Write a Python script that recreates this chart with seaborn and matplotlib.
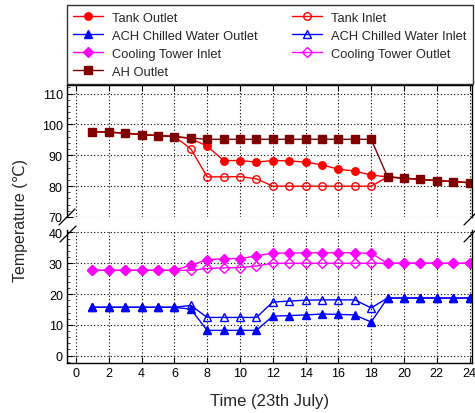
import numpy as np
import pandas as pd
import matplotlib
matplotlib.use("Agg")
import matplotlib.pyplot as plt
import seaborn as sns
from matplotlib.ticker import MultipleLocator
from matplotlib.lines import Line2D

hours = list(range(1, 25))

tank_outlet = [97.7, 97.5, 97.2, 96.7, 96.4, 96.1, 95.4, 93.0, 88.3, 88.3, 87.8, 88.3,
               88.2, 87.8, 86.9, 85.5, 84.9, 83.6, 83.0, 82.6, 82.2, 81.8, 81.5, 81.1]
tank_inlet = [97.7, 97.5, 97.2, 96.7, 96.4, 96.1, 92.1, 83.0, 83.0, 83.1, 82.4, 80.0,
              80.0, 80.0, 80.0, 80.0, 80.0, 80.0, 83.0, 82.6, 82.2, 81.8, 81.5, 81.1]
ah_outlet = [97.7, 97.5, 97.2, 96.7, 96.4, 96.1, 95.6, 95.2, 95.2, 95.2, 95.2, 95.2,
             95.2, 95.2, 95.2, 95.2, 95.2, 95.2, 83.0, 82.6, 82.2, 81.8, 81.5, 81.1]
ach_outlet = [15.7, 15.7, 15.7, 15.7, 15.7, 15.7, 15.1, 8.2, 8.2, 8.2, 8.2, 12.8,
              13.0, 13.2, 13.5, 13.4, 13.2, 10.9, 18.7, 18.7, 18.7, 18.7, 18.7, 18.7]
ach_inlet = [15.7, 15.7, 15.7, 15.7, 15.7, 15.7, 16.3, 12.4, 12.4, 12.4, 12.4, 17.4,
             17.7, 18.0, 18.1, 18.1, 18.1, 15.5, 18.7, 18.7, 18.7, 18.7, 18.7, 18.7]
ct_inlet = [27.7, 27.7, 27.7, 27.7, 27.7, 27.7, 29.4, 31.1, 31.5, 31.5, 32.4, 33.3,
            33.3, 33.4, 33.4, 33.4, 33.4, 33.2, 30.0, 30.0, 30.0, 30.0, 30.0, 30.0]
ct_outlet = [27.7, 27.7, 27.7, 27.7, 27.7, 27.7, 27.7, 28.3, 28.5, 28.6, 29.1, 30.0,
             30.0, 30.0, 30.0, 30.0, 30.0, 30.0, 30.0, 30.0, 30.0, 30.0, 30.0, 30.0]

x_ticks = list(range(0, 25, 2))
upper_ticks = [70, 80, 90, 100, 110]
lower_ticks = [0, 10, 20, 30, 40]

sns.set_style("ticks")
plt.rcParams['font.family'] = ['Liberation Sans', 'DejaVu Sans']
plt.rcParams['xtick.direction'] = 'in'
plt.rcParams['ytick.direction'] = 'in'

W, H = 475, 414
fig = plt.figure(figsize=(W / 100, H / 100), dpi=100)

left, right = 67 / W, 472 / W
ax_u = fig.add_axes([left, 1 - 218 / H, right - left, (218 - 86) / H])
ax_l = fig.add_axes([left, 1 - 364 / H, right - left, (364 - 231) / H])

RED = '#ff0000'
BLUE = '#0000ff'
MAG = '#ff00ff'
DRED = '#800000'
ms = 5.4
lw = 1.0

series = {}

def draw(ax, y, color, marker, filled, label):
    kw = dict(color=color, marker=marker, markersize=ms, linewidth=lw,
              markeredgecolor=color, markeredgewidth=1.0)
    if marker == 'D':
        kw['markersize'] = ms * 0.85
    if not filled:
        kw['markerfacecolor'] = 'none'
    else:
        kw['markerfacecolor'] = color
    sns.lineplot(x=hours, y=y, ax=ax, **kw)
    series[label] = Line2D([], [], **kw)

draw(ax_u, tank_inlet, RED, 'o', False, 'Tank Inlet')
draw(ax_u, tank_outlet, RED, 'o', True, 'Tank Outlet')
draw(ax_u, ah_outlet, DRED, 's', True, 'AH Outlet')
draw(ax_l, ach_inlet, BLUE, '^', False, 'ACH Chilled Water Inlet')
draw(ax_l, ach_outlet, BLUE, '^', True, 'ACH Chilled Water Outlet')
draw(ax_l, ct_outlet, MAG, 'D', False, 'Cooling Tower Outlet')
draw(ax_l, ct_inlet, MAG, 'D', True, 'Cooling Tower Inlet')

for ax in (ax_u, ax_l):
    ax.set_xlim(-0.55, 24.15)
    ax.xaxis.set_major_locator(MultipleLocator(2))
    ax.yaxis.set_minor_locator(MultipleLocator(2))
    ax.grid(True, which='major', color='black', linestyle=(0, (1, 2)), linewidth=0.8)
    ax.set_axisbelow(True)
    ax.tick_params(axis='both', which='major', labelsize=9, length=4, width=0.8, colors='black', pad=3)
    ax.tick_params(axis='y', which='minor', length=2, width=0.6)
    for s in ax.spines.values():
        s.set_linewidth(1.0)
        s.set_color('black')
    ax.set_xlabel('')
    ax.set_ylabel('')

ax_u.set_ylim(70, 112.8)
ax_u.set_yticks(upper_ticks)
ax_u.spines['bottom'].set_visible(False)
ax_u.tick_params(axis='x', which='both', bottom=False, labelbottom=False, top=True)

ax_l.set_ylim(-2.4, 40.8)
ax_l.set_yticks(lower_ticks)
ax_l.spines['top'].set_visible(False)
ax_l.set_xticks(x_ticks)
ax_l.set_xlabel('Time (23th July)', fontsize=12, labelpad=10)

# break marks
d = 8
def brk(xpix, ypix):
    fig.lines.append(Line2D([(xpix - d) / W, (xpix + d) / W],
                            [1 - (ypix + d) / H, 1 - (ypix - d) / H],
                            transform=fig.transFigure, color='black', linewidth=0.9))
brk(67, 218)
brk(472, 218)
brk(68, 235)
brk(472, 235)

fig.text(21 / W, 1 - 220 / H, 'Temperature (\u2103)', rotation=90,
         ha='center', va='center', fontsize=11.5)

order = ['Tank Outlet', 'ACH Chilled Water Outlet', 'Cooling Tower Inlet', 'AH Outlet',
         'Tank Inlet', 'ACH Chilled Water Inlet', 'Cooling Tower Outlet']
leg = fig.legend([series[k] for k in order], order, ncol=2,
                 loc='upper left', bbox_to_anchor=(67 / W, 1 - 82 / H, 406 / W, 76 / H),
                 mode='expand',
                 fontsize=9.3, frameon=True, fancybox=False, edgecolor='black',
                 handlelength=2.3, handletextpad=0.7, columnspacing=3.0,
                 labelspacing=0.47, borderpad=0.5, borderaxespad=0)
leg.get_frame().set_linewidth(1.0)

fig.savefig('out.png', dpi=100)
